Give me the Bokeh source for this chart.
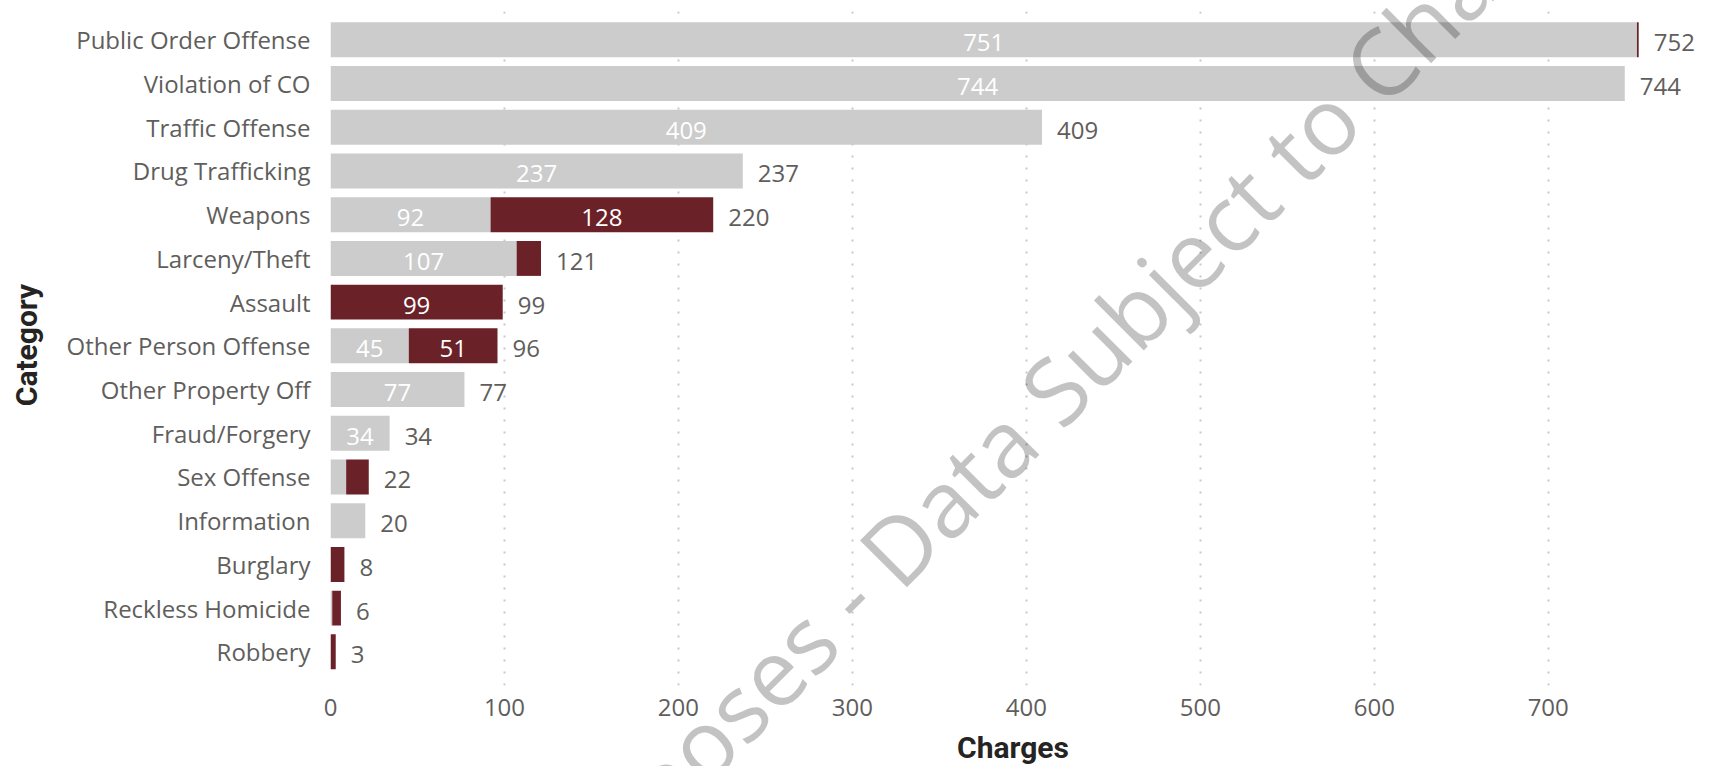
from bokeh.plotting import figure
from bokeh.layouts import column
from bokeh.models import Range1d, FixedTicker, ColumnDataSource, Div
from bokeh.core.properties import value
from bokeh.embed import file_html
from bokeh.resources import INLINE

categories = ["Public Order Offense", "Violation of CO", "Traffic Offense", "Drug Trafficking",
              "Weapons", "Larceny/Theft", "Assault", "Other Person Offense", "Other Property Off",
              "Fraud/Forgery", "Sex Offense", "Information", "Burglary", "Reckless Homicide", "Robbery"]
grey_values = [751, 744, 409, 237, 92, 107, 0, 45, 77, 34, 9, 20, 0, 1, 0]
maroon_values = [1, 0, 0, 0, 128, 14, 99, 51, 0, 0, 13, 0, 8, 5, 3]
x_ticks = [0, 100, 200, 300, 400, 500, 600, 700]
x_title = "Charges"
y_title = "Category"
watermark = "For Demonstration Purposes - Data Subject to Change"

GREY = "#CCCCCC"
MAROON = "#6B2128"
LABEL_GREY = "#605E5C"
TITLE_COLOR = "#252423"
FONT = "Open Sans"
TITLE_FONT = "Roboto"
FS = "24px"
MIN_INSIDE = 30
W, H = 1705, 766
LEFT, TOP, FRAME_H = 330, 11, 674

idx = list(range(len(categories)))
totals = [g + m for g, m in zip(grey_values, maroon_values)]

p = figure(width=W, height=H,
           x_range=Range1d(0, 790.4), y_range=Range1d(14.77, -0.648),
           output_backend="svg", toolbar_location=None,
           min_border_left=LEFT, min_border_right=0, min_border_top=TOP,
           min_border_bottom=H - TOP - FRAME_H)
p.outline_line_color = None
p.background_fill_color = "white"
p.border_fill_color = "white"

src = ColumnDataSource(dict(y=idx, grey=grey_values, maroon=maroon_values, total=totals))
p.hbar(y="y", left=0, right="grey", height=0.8, fill_color=GREY, line_color=None, source=src)
p.hbar(y="y", left="grey", right="total", height=0.8, fill_color=MAROON, line_color=None, source=src)

# labels inside the segments
in_x, in_y, in_t = [], [], []
for i, g, m in zip(idx, grey_values, maroon_values):
    if g >= MIN_INSIDE:
        in_x.append(g / 2); in_y.append(i); in_t.append(str(g))
    if m >= MIN_INSIDE:
        in_x.append(g + m / 2); in_y.append(i); in_t.append(str(m))
p.text(x=in_x, y=in_y, text=in_t, text_align="center", text_baseline="middle",
       text_color="white", text_font=value(FONT), text_font_size=FS, y_offset=3)

# total labels
p.text(x=totals, y=idx, text=[str(t) for t in totals],
       text_align="left", text_baseline="middle", x_offset=15, y_offset=3,
       text_color=LABEL_GREY, text_font=value(FONT), text_font_size=FS)

for ax in (p.xaxis[0], p.yaxis[0]):
    ax.axis_line_color = None
    ax.major_tick_line_color = None
    ax.minor_tick_line_color = None
    ax.major_tick_out = 0
    ax.major_tick_in = 0
    ax.minor_tick_out = 0
    ax.minor_tick_in = 0
    ax.major_label_text_font = FONT
    ax.major_label_text_font_size = FS
    ax.major_label_text_color = LABEL_GREY

xa = p.xaxis[0]
xa.ticker = FixedTicker(ticks=x_ticks)
xa.major_label_standoff = 13

ya = p.yaxis[0]
ya.ticker = FixedTicker(ticks=idx)
ya.major_label_overrides = {i: c for i, c in zip(idx, categories)}
ya.major_label_standoff = 20

p.xgrid.ticker = FixedTicker(ticks=x_ticks)
p.xgrid.grid_line_color = "#C8C8C8"
p.xgrid.grid_line_width = 2
p.xgrid.grid_line_dash = "2 10"
p.ygrid.grid_line_color = None

# Overlay (axis titles and the watermark reach outside the plotting frame)
def span(text, cx, cy, deg, style):
    return (f'<span style="position:absolute;left:{cx}px;top:{cy}px;'
            f'transform:translate(-50%,-50%) rotate({deg}deg);line-height:1;'
            f'white-space:nowrap;{style}">{text}</span>')

title_style = f"font-family:'{TITLE_FONT}';font-weight:bold;font-size:30px;color:{TITLE_COLOR};"
wm_style = f"font-family:'{FONT}';font-weight:normal;font-size:93px;color:rgba(0,0,0,0.235);"
html = (f'<div style="position:relative;width:{W}px;height:{H}px;overflow:hidden;pointer-events:none;">'
        + span(y_title, 27, 345, -90, title_style)
        + span(x_title, 1013, 748, 0, title_style)
        + span(watermark, 763, 681, -45, wm_style)
        + '</div>')
overlay = Div(text=html, width=W, height=H, margin=(-H, 0, 0, 0))

layout = column(p, overlay)
open("out.html", "w").write(file_html(layout, INLINE))
